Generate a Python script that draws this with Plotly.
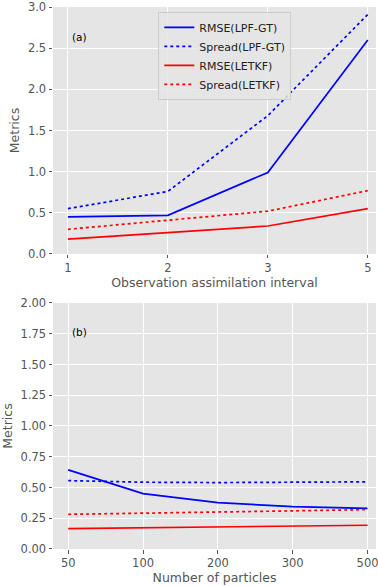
import plotly.graph_objects as go

# Panel (a): metrics vs observation assimilation interval
intervals = ["1", "2", "3", "5"]
rmse_lpf_a = [0.45, 0.47, 0.99, 2.60]
spread_lpf_a = [0.55, 0.76, 1.68, 2.91]
rmse_letkf_a = [0.18, 0.26, 0.34, 0.55]
spread_letkf_a = [0.30, 0.41, 0.52, 0.77]

# Panel (b): metrics vs number of particles
particles = ["50", "100", "200", "300", "500"]
rmse_lpf_b = [0.643, 0.450, 0.377, 0.345, 0.330]
spread_lpf_b = [0.556, 0.543, 0.540, 0.543, 0.546]
rmse_letkf_b = [0.166, 0.174, 0.180, 0.185, 0.193]
spread_letkf_b = [0.282, 0.293, 0.300, 0.310, 0.320]

BLUE = "#0000FF"
RED = "#FF0000"
GRID_BG = "#E5E5E5"
TICK_COLOR = "#555555"
FONT = "DejaVu Sans"

series = [
    ("RMSE(LPF-GT)", BLUE, "solid"),
    ("Spread(LPF-GT)", BLUE, "dot"),
    ("RMSE(LETKF)", RED, "solid"),
    ("Spread(LETKF)", RED, "dot"),
]

fig = go.Figure()

for (name, color, dash), ys in zip(series, [rmse_lpf_a, spread_lpf_a, rmse_letkf_a, spread_letkf_a]):
    fig.add_trace(go.Scatter(
        x=intervals, y=ys, mode="lines", name=name,
        line=dict(color=color, dash=dash, width=1.7),
        xaxis="x", yaxis="y", showlegend=True,
    ))

for (name, color, dash), ys in zip(series, [rmse_lpf_b, spread_lpf_b, rmse_letkf_b, spread_letkf_b]):
    fig.add_trace(go.Scatter(
        x=particles, y=ys, mode="lines", name=name,
        line=dict(color=color, dash=dash, width=1.7),
        xaxis="x2", yaxis="y2", showlegend=False,
    ))

axis_common = dict(
    showgrid=True, gridcolor="white", gridwidth=1,
    zeroline=False, showline=False,
    ticks="outside", ticklen=3.5, tickcolor=TICK_COLOR, tickwidth=1,
    tickfont=dict(family=FONT, size=11.5, color=TICK_COLOR),
    title_font=dict(family=FONT, size=12.5, color=TICK_COLOR),
)

fig.update_layout(
    width=378, height=586,
    margin=dict(l=53, r=0, t=7, b=37),
    paper_bgcolor="white",
    plot_bgcolor=GRID_BG,
    font=dict(family=FONT, size=11, color="#222222"),
    xaxis=dict(
        axis_common, domain=[0, 1], anchor="y",
        type="category", categoryorder="array", categoryarray=intervals,
        range=[-0.149, 3.082],
        title=dict(text="Observation assimilation interval", standoff=3),
    ),
    yaxis=dict(
        axis_common, domain=[0.5443, 1.0], anchor="x",
        range=[0, 3.0], tickvals=[0, 0.5, 1.0, 1.5, 2.0, 2.5, 3.0],
        ticktext=["0.0", "0.5", "1.0", "1.5", "2.0", "2.5", "3.0"],
        title=dict(text="Metrics", standoff=5),
    ),
    xaxis2=dict(
        axis_common, domain=[0, 1], anchor="y2",
        type="category", categoryorder="array", categoryarray=particles,
        range=[-0.203, 4.113],
        title=dict(text="Number of particles", standoff=3),
    ),
    yaxis2=dict(
        axis_common, domain=[0, 0.4539], anchor="x2",
        range=[0, 2.0], tickvals=[0, 0.25, 0.5, 0.75, 1.0, 1.25, 1.5, 1.75, 2.0],
        ticktext=["0.00", "0.25", "0.50", "0.75", "1.00", "1.25", "1.50", "1.75", "2.00"],
        title=dict(text="Metrics", standoff=5),
    ),
    legend=dict(
        x=0.326, y=0.991, xanchor="left", yanchor="top",
        bgcolor="rgba(229,229,229,0.85)", bordercolor="#CCCCCC", borderwidth=1,
        font=dict(family=FONT, size=11, color="#222222"),
        tracegroupgap=0, itemwidth=30,
    ),
    annotations=[
        dict(text="(a)", xref="x domain", yref="y domain", x=0.052, y=0.88,
             xanchor="left", yanchor="middle", showarrow=False,
             font=dict(family=FONT, size=10.5, color="black")),
        dict(text="(b)", xref="x2 domain", yref="y2 domain", x=0.052, y=0.881,
             xanchor="left", yanchor="middle", showarrow=False,
             font=dict(family=FONT, size=10.5, color="black")),
    ],
)

fig.write_html("out.html")
